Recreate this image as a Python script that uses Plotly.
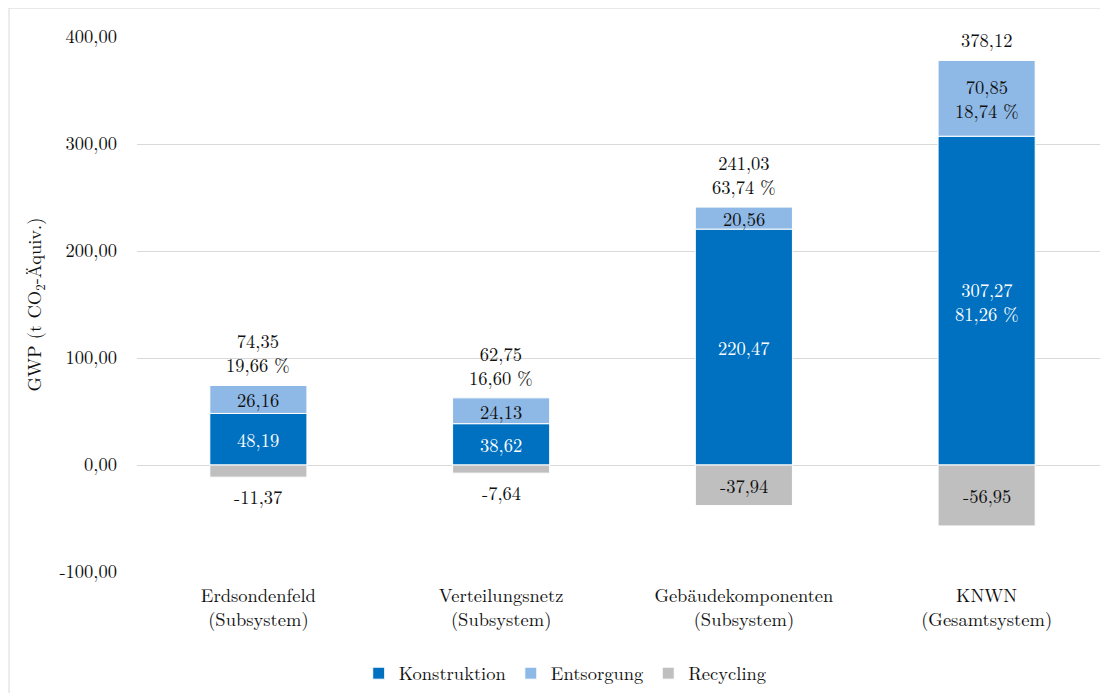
import plotly.graph_objects as go

categories = ["Erdsondenfeld<br>(Subsystem)", "Verteilungsnetz<br>(Subsystem)",
              "Gebäudekomponenten<br>(Subsystem)", "KNWN<br>(Gesamtsystem)"]
konstruktion = [48.19, 38.62, 220.47, 307.27]
entsorgung = [26.16, 24.13, 20.56, 70.85]
recycling = [-11.37, -7.64, -37.94, -56.95]
y_ticks = [-100, 0, 100, 200, 300, 400]

FONT = "Latin Modern Roman"
FS = 18.5
C_KON = "#0070C0"
C_ENT = "#8EB8E5"
C_REC = "#BFBFBF"
TXT = "#111111"


def fmt(v):
    return f"{v:.2f}".replace(".", ",")


x_idx = list(range(len(categories)))
fig = go.Figure()
for name, vals, col in [("Konstruktion", konstruktion, C_KON),
                        ("Entsorgung", entsorgung, C_ENT),
                        ("Recycling", recycling, C_REC)]:
    fig.add_trace(go.Bar(x=x_idx, y=vals, name=name, marker_color=col,
                         marker_line_color="white", marker_line_width=1,
                         width=0.4, hoverinfo="skip"))

grand_total = konstruktion[-1] + entsorgung[-1]
ann = []
n = len(categories)
for i in range(n):
    k, e, r = konstruktion[i], entsorgung[i], recycling[i]
    tot = k + e
    last = (i == n - 1)
    if last:
        ktxt = f"{fmt(k)}<br>{fmt(k / grand_total * 100)} %"
        etxt = f"{fmt(e)}<br>{fmt(e / grand_total * 100)} %"
        ttxt = fmt(tot)
    else:
        ktxt = fmt(k)
        etxt = fmt(e)
        ttxt = f"{fmt(tot)}<br>{fmt(tot / grand_total * 100)} %"
    ann.append(dict(x=i, y=k / 2, text=ktxt, font=dict(color="white")))
    ann.append(dict(x=i, y=k + e / 2, text=etxt, font=dict(color=TXT)))
    ann.append(dict(x=i, y=tot, text=ttxt, yanchor="bottom", yshift=6,
                    font=dict(color=TXT)))
    if abs(r) < 20:
        ann.append(dict(x=i, y=r, text=fmt(r), yanchor="top", yshift=-4,
                        font=dict(color=TXT)))
    else:
        ann.append(dict(x=i, y=r / 2, text=fmt(r), font=dict(color=TXT)))

for a in ann:
    a.update(xref="x", yref="y", showarrow=False)
    a["font"].update(family=FONT, size=FS)

fig.update_layout(
    annotations=ann,
    barmode="relative",
    width=1108, height=693,
    margin=dict(l=129, r=8, t=29, b=129),
    paper_bgcolor="white", plot_bgcolor="white",
    font=dict(family=FONT, size=FS, color=TXT),
    showlegend=True,
    legend=dict(orientation="h", x=0.441, xanchor="center", y=-0.19,
                yanchor="middle", font=dict(family=FONT, size=FS, color=TXT),
                itemclick=False, traceorder="normal", itemwidth=30),
    xaxis=dict(tickmode="array", tickvals=x_idx, ticktext=categories,
               range=[-0.5, n - 0.5], showgrid=False, zeroline=False,
               showline=False, ticks="", ticklabelstandoff=10,
               tickfont=dict(family=FONT, size=FS, color=TXT)),
    yaxis=dict(range=[-100, 400], tickvals=y_ticks,
               ticktext=[fmt(v) for v in y_ticks],
               showgrid=True, gridcolor="#D9D9D9", gridwidth=1,
               zeroline=False, showline=False, ticks="",
               ticklabelstandoff=19,
               tickfont=dict(family=FONT, size=FS, color=TXT),
               title=dict(text="GWP (t CO<sub>2</sub>-Äquiv.)", standoff=12,
                          font=dict(family=FONT, size=FS, color=TXT))),
    shapes=[dict(type="rect", xref="paper", yref="paper",
                 x0=-0.1318, x1=1.2, y0=-0.5, y1=1.054,
                 line=dict(color="#D9D9D9", width=1), fillcolor="rgba(0,0,0,0)",
                 layer="below")],
)
fig.write_html("out.html")
